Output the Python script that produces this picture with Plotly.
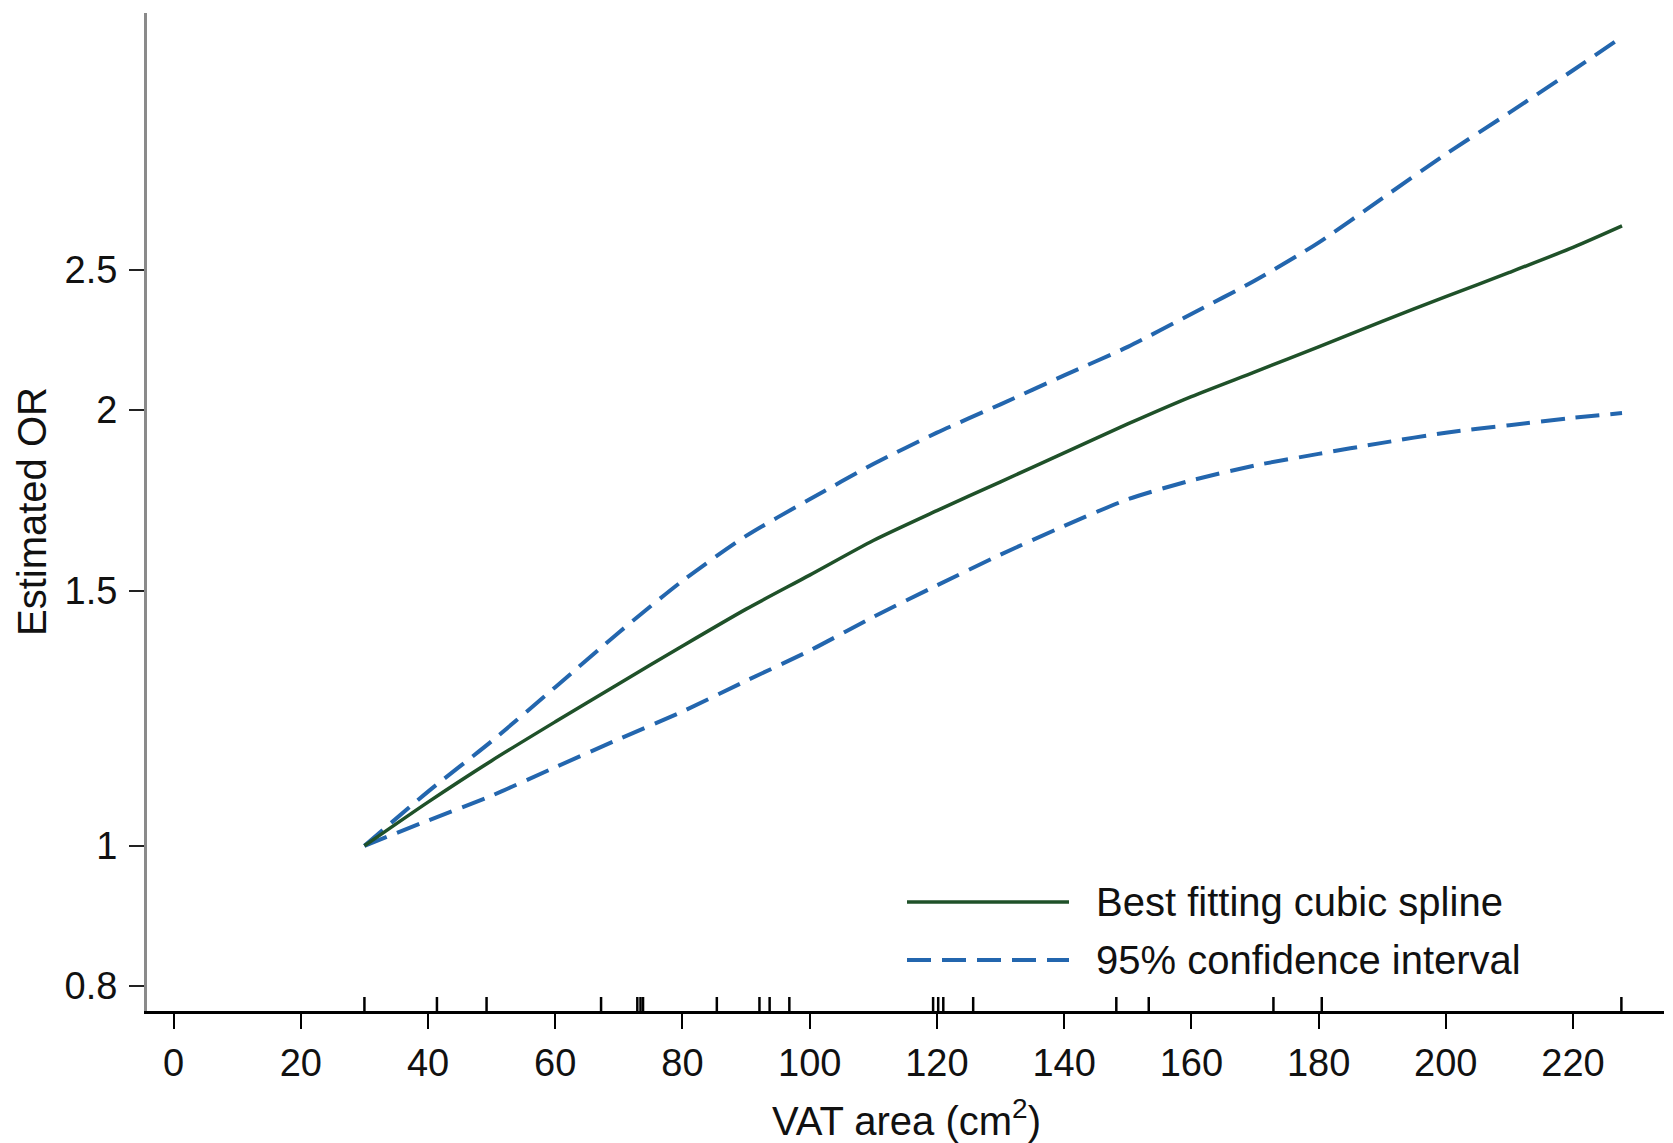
import plotly.graph_objects as go

# ---- data ----
vat = [30, 40, 50, 60, 70, 80, 90, 100, 110, 120, 130, 140, 150, 160, 170, 180, 190, 200, 210, 220, 227.7]
or_fit = [1.0, 1.072, 1.145, 1.218, 1.294, 1.374, 1.457, 1.538, 1.625, 1.704, 1.784, 1.868, 1.956, 2.043,
          2.125, 2.211, 2.303, 2.395, 2.489, 2.590, 2.680]
or_upper = [1.0, 1.090, 1.181, 1.287, 1.404, 1.524, 1.637, 1.735, 1.835, 1.929, 2.018, 2.113, 2.211, 2.330,
            2.457, 2.610, 2.800, 3.004, 3.209, 3.433, 3.620]
or_lower = [1.0, 1.041, 1.083, 1.133, 1.185, 1.238, 1.300, 1.364, 1.439, 1.513, 1.589, 1.663, 1.735, 1.788,
            1.831, 1.865, 1.898, 1.929, 1.952, 1.975, 1.990]
rug_x = [30, 41.4, 49.2, 67.2, 72.9, 73.4, 73.8, 85.4, 92.1, 93.7, 96.8, 119.4, 120.2, 121.0, 125.7,
         148.2, 153.3, 172.9, 180.5, 227.6]
y_tickvals = [0.8, 1, 1.5, 2, 2.5]
y_ticktext = ["0.8", "1", "1.5", "2", "2.5"]
x_tickvals = list(range(0, 221, 20))
legend_labels = ["Best fitting cubic spline", "95% confidence interval"]
x_title = "VAT area (cm<sup>2</sup>)"
y_title = "Estimated OR"

GREEN = "#1f5129"
BLUE = "#2366ae"
TEXT = "#111111"
FONT = "Liberation Sans, Arial, Helvetica, sans-serif"
DASH = "24px,11px"

W, H = 1673, 1143
ML, MR, MT, MB = 147, 9, 13, 132
plot_w = W - ML - MR
plot_h = H - MT - MB


def px_x(p):
    return (p - ML) / plot_w


def px_y(p):
    return 1 - (p - MT) / plot_h


fig = go.Figure()
fig.add_trace(go.Scatter(x=vat, y=or_upper, mode="lines",
                         line=dict(color=BLUE, width=4, dash=DASH, shape="spline", smoothing=0.7),
                         showlegend=False, hoverinfo="skip"))
fig.add_trace(go.Scatter(x=vat, y=or_lower, mode="lines",
                         line=dict(color=BLUE, width=4, dash=DASH, shape="spline", smoothing=0.7),
                         showlegend=False, hoverinfo="skip"))
fig.add_trace(go.Scatter(x=vat, y=or_fit, mode="lines",
                         line=dict(color=GREEN, width=3.5, shape="spline", smoothing=0.7),
                         showlegend=False, hoverinfo="skip"))

shapes = []
# rug plot along the x axis
for v in rug_x:
    shapes.append(dict(type="line", xref="x", yref="paper", x0=v, x1=v, y0=0, y1=14 / plot_h,
                       line=dict(color="black", width=2.5)))

# manual legend
shapes.append(dict(type="line", xref="paper", yref="paper", x0=px_x(907), x1=px_x(1069),
                   y0=px_y(902), y1=px_y(902), line=dict(color=GREEN, width=3.5)))
shapes.append(dict(type="line", xref="paper", yref="paper", x0=px_x(907), x1=px_x(1069),
                   y0=px_y(960), y1=px_y(960), line=dict(color=BLUE, width=4, dash=DASH)))
annotations = [
    dict(x=px_x(1094), y=px_y(902), xref="paper", yref="paper", text=legend_labels[0], showarrow=False,
         xanchor="left", yanchor="middle", font=dict(family=FONT, size=40, color=TEXT)),
    dict(x=px_x(1094), y=px_y(960), xref="paper", yref="paper", text=legend_labels[1], showarrow=False,
         xanchor="left", yanchor="middle", font=dict(family=FONT, size=40, color=TEXT)),
    # axis titles
    dict(x=px_x(906), y=px_y(1118), xref="paper", yref="paper", text=x_title, showarrow=False,
         xanchor="center", yanchor="middle", font=dict(family=FONT, size=40, color=TEXT)),
    dict(x=px_x(32), y=px_y(512), xref="paper", yref="paper", text=y_title, showarrow=False,
         textangle=-90, xanchor="center", yanchor="middle", font=dict(family=FONT, size=40, color=TEXT)),
]

fig.update_layout(
    width=W, height=H,
    margin=dict(l=ML, r=MR, t=MT, b=MB, pad=0, autoexpand=False),
    paper_bgcolor="white", plot_bgcolor="white",
    showlegend=False,
    shapes=shapes,
    annotations=annotations,
    font=dict(family=FONT, color=TEXT),
)

fig.update_xaxes(
    range=[-4.18, 234.3],
    tickvals=x_tickvals,
    ticks="outside", ticklen=15, tickwidth=2, tickcolor="black",
    showline=True, linecolor="black", linewidth=3,
    showgrid=False, zeroline=False, automargin=False,
    tickfont=dict(family=FONT, size=38, color=TEXT),
    ticklabelstandoff=1,
)
fig.update_yaxes(
    type="log",
    range=[-0.1141, 0.5752],
    tickvals=y_tickvals, ticktext=y_ticktext,
    ticks="outside", ticklen=15, tickwidth=2, tickcolor="#222",
    showline=True, linecolor="#8a8a8a", linewidth=3,
    showgrid=False, zeroline=False, automargin=False,
    tickfont=dict(family=FONT, size=38, color=TEXT),
    ticklabelstandoff=4,
)

fig.write_html(
    "out.html",
    config={"displayModeBar": False},
    post_script="document.body.style.margin='0';document.body.style.padding='0';"
                "document.body.style.overflow='hidden';",
)
